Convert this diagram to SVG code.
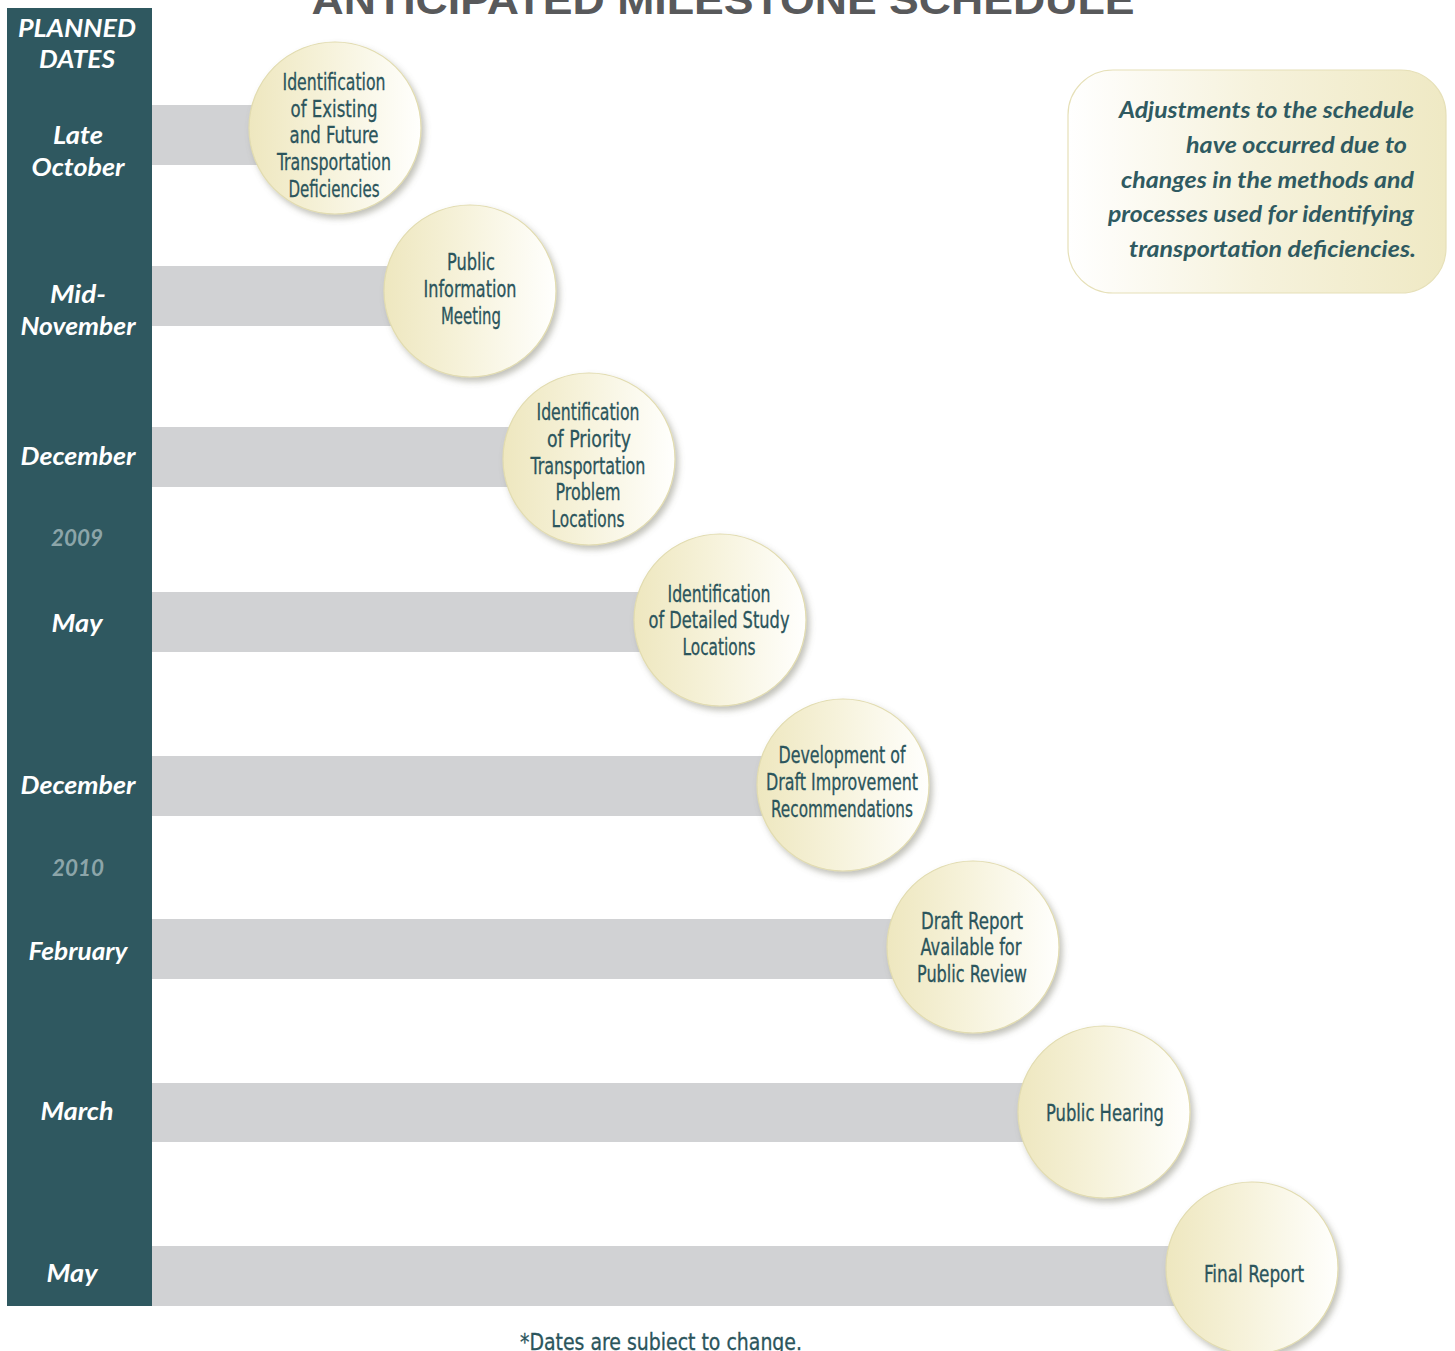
<svg xmlns="http://www.w3.org/2000/svg" width="1455" height="1351" viewBox="0 0 1455 1351">
<style>
.bar{fill:#d1d2d4}
.ms{fill:url(#circGrad);stroke:#e2dcb0;stroke-width:1.2;filter:url(#shadow)}
.ct{font-family:"Liberation Sans Narrow","DejaVu Sans Condensed","Liberation Sans",sans-serif;font-size:23px;fill:#2b555c;stroke:#2b555c;stroke-width:0.3;text-anchor:middle}
.dl{font-family:Lato,"Open Sans","Liberation Sans",sans-serif;font-size:24px;font-weight:bold;font-style:italic;fill:#ffffff;text-anchor:middle}
.yr{font-family:Lato,"Open Sans","Liberation Sans",sans-serif;font-size:23px;font-weight:bold;font-style:italic;fill:#8ca5a9;text-anchor:middle}
.nt{font-family:Lato,"Open Sans","Liberation Sans",sans-serif;font-size:22px;font-weight:bold;font-style:italic;fill:#2f5a61;text-anchor:end}
</style>
<defs>
<linearGradient id="circGrad" x1="0" y1="0" x2="1" y2="0">
<stop offset="0" stop-color="#eee7bf"/>
<stop offset="0.45" stop-color="#f6f2da"/>
<stop offset="1" stop-color="#fffffd"/>
</linearGradient>
<linearGradient id="noteGrad" x1="0" y1="0" x2="1" y2="0">
<stop offset="0" stop-color="#ffffff"/>
<stop offset="0.5" stop-color="#f6f2dc"/>
<stop offset="1" stop-color="#efe9c4"/>
</linearGradient>
<filter id="shadow" x="-20%" y="-20%" width="150%" height="150%">
<feDropShadow dx="3" dy="4" stdDeviation="3" flood-color="#777766" flood-opacity="0.45"/>
</filter>
</defs>
<rect width="1455" height="1351" fill="#ffffff"/>
<text x="723" y="14" font-family="'Liberation Sans',Arial,sans-serif" font-size="40" font-weight="bold" fill="#58595b" text-anchor="middle" textLength="823" lengthAdjust="spacingAndGlyphs">ANTICIPATED MILESTONE SCHEDULE</text>
<g id="dates-column">
<rect x="7" y="8" width="145" height="1298" fill="#2f5860"/>
<text class="dl" x="77" y="37" textLength="118" lengthAdjust="spacingAndGlyphs">PLANNED</text>
<text class="dl" x="77" y="68" textLength="76" lengthAdjust="spacingAndGlyphs">DATES</text>
<text class="dl" x="78" y="144" textLength="50" lengthAdjust="spacingAndGlyphs">Late</text>
<text class="dl" x="78" y="176" textLength="93" lengthAdjust="spacingAndGlyphs">October</text>
<text class="dl" x="78" y="303" textLength="56" lengthAdjust="spacingAndGlyphs">Mid-</text>
<text class="dl" x="78" y="335" textLength="115" lengthAdjust="spacingAndGlyphs">November</text>
<text class="dl" x="78" y="465" textLength="115" lengthAdjust="spacingAndGlyphs">December</text>
<text class="yr" x="77" y="546" textLength="52" lengthAdjust="spacingAndGlyphs">2009</text>
<text class="dl" x="77" y="632" textLength="51" lengthAdjust="spacingAndGlyphs">May</text>
<text class="dl" x="78" y="794" textLength="115" lengthAdjust="spacingAndGlyphs">December</text>
<text class="yr" x="78" y="876" textLength="52" lengthAdjust="spacingAndGlyphs">2010</text>
<text class="dl" x="78" y="960" textLength="99" lengthAdjust="spacingAndGlyphs">February</text>
<text class="dl" x="77" y="1120" textLength="73" lengthAdjust="spacingAndGlyphs">March</text>
<text class="dl" x="72" y="1282" textLength="51" lengthAdjust="spacingAndGlyphs">May</text>
</g>
<g id="connectors">
<rect class="bar" x="152" y="105" width="140" height="60"/>
<rect class="bar" x="152" y="266" width="280" height="60"/>
<rect class="bar" x="152" y="427" width="400" height="60"/>
<rect class="bar" x="152" y="592" width="520" height="60"/>
<rect class="bar" x="152" y="756" width="640" height="60"/>
<rect class="bar" x="152" y="919" width="780" height="60"/>
<rect class="bar" x="152" y="1083" width="900" height="59"/>
<rect class="bar" x="152" y="1246" width="1050" height="60"/>
</g>
<g id="m1">
<circle class="ms" cx="335" cy="128" r="86"/>
<text class="ct" x="334" y="90" textLength="103" lengthAdjust="spacingAndGlyphs">Identification</text>
<text class="ct" x="334" y="117" textLength="87" lengthAdjust="spacingAndGlyphs">of Existing</text>
<text class="ct" x="334" y="143" textLength="89" lengthAdjust="spacingAndGlyphs">and Future</text>
<text class="ct" x="334" y="170" textLength="114" lengthAdjust="spacingAndGlyphs">Transportation</text>
<text class="ct" x="334" y="197" textLength="91" lengthAdjust="spacingAndGlyphs">Deficiencies</text>
</g>
<g id="m2">
<circle class="ms" cx="470" cy="291" r="86"/>
<text class="ct" x="471" y="270" textLength="48" lengthAdjust="spacingAndGlyphs">Public</text>
<text class="ct" x="470" y="297" textLength="93" lengthAdjust="spacingAndGlyphs">Information</text>
<text class="ct" x="471" y="324" textLength="60" lengthAdjust="spacingAndGlyphs">Meeting</text>
</g>
<g id="m3">
<circle class="ms" cx="589" cy="459" r="86"/>
<text class="ct" x="588" y="420" textLength="103" lengthAdjust="spacingAndGlyphs">Identification</text>
<text class="ct" x="589" y="447" textLength="84" lengthAdjust="spacingAndGlyphs">of Priority</text>
<text class="ct" x="588" y="474" textLength="115" lengthAdjust="spacingAndGlyphs">Transportation</text>
<text class="ct" x="588" y="500" textLength="65" lengthAdjust="spacingAndGlyphs">Problem</text>
<text class="ct" x="588" y="527" textLength="73" lengthAdjust="spacingAndGlyphs">Locations</text>
</g>
<g id="m4">
<circle class="ms" cx="720" cy="620" r="86"/>
<text class="ct" x="719" y="602" textLength="103" lengthAdjust="spacingAndGlyphs">Identification</text>
<text class="ct" x="719" y="628" textLength="141" lengthAdjust="spacingAndGlyphs">of Detailed Study</text>
<text class="ct" x="719" y="655" textLength="73" lengthAdjust="spacingAndGlyphs">Locations</text>
</g>
<g id="m5">
<circle class="ms" cx="843" cy="785" r="86"/>
<text class="ct" x="842" y="763" textLength="127" lengthAdjust="spacingAndGlyphs">Development of</text>
<text class="ct" x="842" y="790" textLength="152" lengthAdjust="spacingAndGlyphs">Draft Improvement</text>
<text class="ct" x="842" y="817" textLength="142" lengthAdjust="spacingAndGlyphs">Recommendations</text>
</g>
<g id="m6">
<circle class="ms" cx="973" cy="947" r="86"/>
<text class="ct" x="972" y="929" textLength="102" lengthAdjust="spacingAndGlyphs">Draft Report</text>
<text class="ct" x="971" y="955" textLength="101" lengthAdjust="spacingAndGlyphs">Available for</text>
<text class="ct" x="972" y="982" textLength="110" lengthAdjust="spacingAndGlyphs">Public Review</text>
</g>
<g id="m7">
<circle class="ms" cx="1104" cy="1112" r="86"/>
<text class="ct" x="1105" y="1121" textLength="118" lengthAdjust="spacingAndGlyphs">Public Hearing</text>
</g>
<g id="m8">
<circle class="ms" cx="1252" cy="1268" r="86"/>
<text class="ct" x="1254" y="1282" textLength="100" lengthAdjust="spacingAndGlyphs">Final Report</text>
</g>
<g id="note">
<rect x="1068" y="70" width="378" height="223" rx="45" ry="45" fill="url(#noteGrad)" stroke="#e6e0b8" stroke-width="1.2"/>
<text class="nt" x="1414" y="118" textLength="295" lengthAdjust="spacingAndGlyphs">Adjustments to the schedule</text>
<text class="nt" x="1407" y="153" textLength="221" lengthAdjust="spacingAndGlyphs">have occurred due to</text>
<text class="nt" x="1414" y="188" textLength="293" lengthAdjust="spacingAndGlyphs">changes in the methods and</text>
<text class="nt" x="1414" y="222" textLength="306" lengthAdjust="spacingAndGlyphs">processes used for identifying</text>
<text class="nt" x="1416" y="257" textLength="287" lengthAdjust="spacingAndGlyphs">transportation deficiencies.</text>
</g>
<text class="ct" x="661" y="1350" textLength="282" lengthAdjust="spacingAndGlyphs">*Dates are subiect to change.</text>
</svg>
